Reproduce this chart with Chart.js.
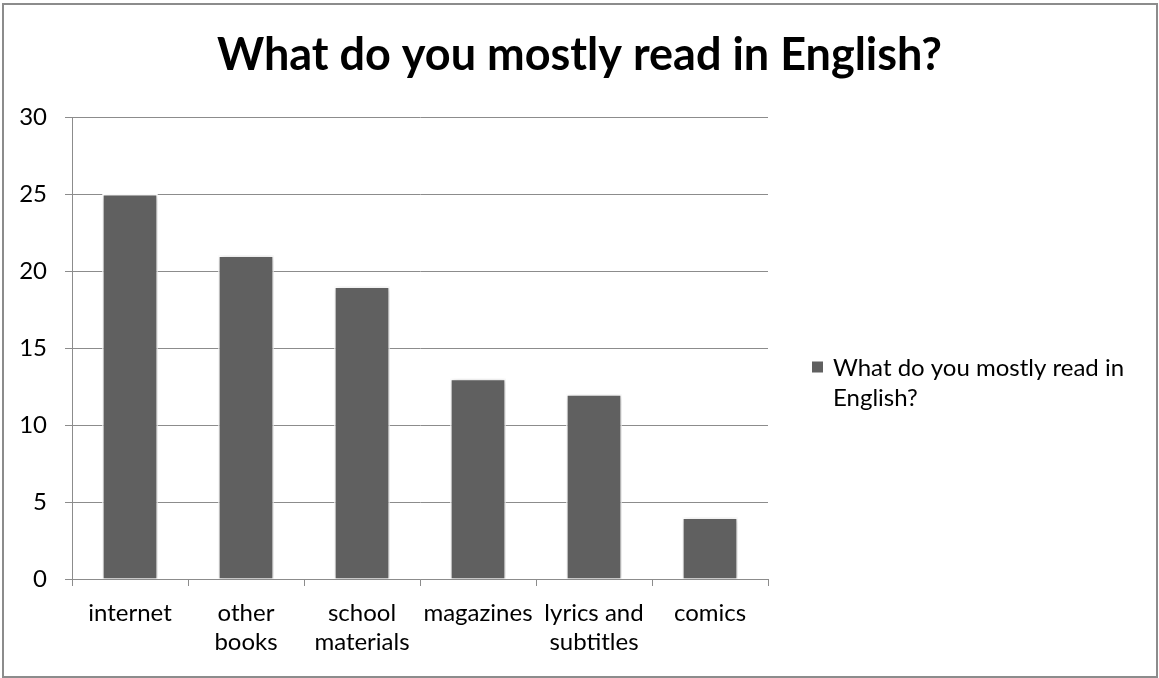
<!DOCTYPE html>
<html>
<head>
<meta charset="utf-8">
<title>What do you mostly read in English?</title>
<script src="https://cdn.jsdelivr.net/npm/chart.js@4/dist/chart.umd.min.js"></script>
<style>
    html, body { margin: 0; padding: 0; background: #fff; }
    #readingChart { display: block; }
</style>
</head>
<body>
<canvas id="readingChart" width="1159" height="678"></canvas>
<script>
const FONT_FAMILY = 'Lato, "Noto Sans", sans-serif';

const chartTitle = 'What do you mostly read in English?';
const categories = [
    ['internet'],
    ['other', 'books'],
    ['school', 'materials'],
    ['magazines'],
    ['lyrics and', 'subtitles'],
    ['comics'],
];
const answers = [25, 21, 19, 13, 12, 4];
const yTicks = { min: 0, max: 30, step: 5 };

const BAR_COLOR = '#606060';
const LINE_COLOR = '#8c8c8c';

// white page + grey frame around the whole chart
const framePlugin = {
    id: 'frame',
    beforeDraw(chart) {
        const ctx = chart.ctx;
        ctx.save();
        ctx.fillStyle = '#fff';
        ctx.fillRect(0, 0, chart.width, chart.height);
        ctx.restore();
    },
    afterDraw(chart) {
        const ctx = chart.ctx;
        ctx.save();
        ctx.strokeStyle = LINE_COLOR;
        ctx.lineWidth = 2;
        ctx.strokeRect(3, 4, chart.width - 5, chart.height - 5);
        ctx.restore();
    },
};

// the title should sit in the middle of the whole canvas, not just the plot part
const wideTitlePlugin = {
    id: 'wideTitle',
    afterLayout(chart) {
        const title = chart.titleBlock;
        if (!title) return;
        title.left = 0;
        title.right = chart.width;
        title.width = chart.width;
    },
};

// soft drop shadow behind the bars
const barShadowPlugin = {
    id: 'barShadow',
    beforeDatasetsDraw(chart) {
        const ctx = chart.ctx;
        ctx.save();
        ctx.shadowColor = 'rgba(0, 0, 0, 0.25)';
        ctx.shadowBlur = 5;
        ctx.shadowOffsetX = 1;
        ctx.shadowOffsetY = 1;
    },
    afterDatasetsDraw(chart) {
        chart.ctx.restore();
    },
};

// legend on the right, wrapped onto several lines like the office style
const sideLegendPlugin = {
    id: 'sideLegend',
    afterDraw(chart, args, opts) {
        const ctx = chart.ctx;
        const dataset = chart.data.datasets[0];
        const x = chart.chartArea.right + opts.offset;
        const textX = x + opts.boxSize + opts.gap;
        const maxWidth = chart.width - textX - 8;
        ctx.save();
        ctx.font = `${opts.fontSize}px ${FONT_FAMILY}`;
        const lines = [];
        let line = '';
        dataset.label.split(' ').forEach((word) => {
            const test = line ? line + ' ' + word : word;
            if (line && ctx.measureText(test).width > maxWidth) {
                lines.push(line);
                line = word;
            } else {
                line = test;
            }
        });
        if (line) lines.push(line);
        const centerY = (chart.chartArea.top + chart.chartArea.bottom) / 2 + opts.shiftY;
        const firstY = centerY - (lines.length - 1) * opts.lineHeight / 2;
        ctx.fillStyle = dataset.backgroundColor;
        ctx.fillRect(x, firstY - opts.boxSize / 2 - 1, opts.boxSize, opts.boxSize);
        ctx.fillStyle = '#000';
        ctx.textBaseline = 'middle';
        ctx.textAlign = 'left';
        lines.forEach((text, i) => {
            ctx.fillText(text, textX, firstY + i * opts.lineHeight);
        });
        ctx.restore();
    },
};

const ctx = document.getElementById('readingChart');

new Chart(ctx, {
    type: 'bar',
    data: {
        labels: categories,
        datasets: [{
            label: chartTitle,
            data: answers,
            backgroundColor: BAR_COLOR,
            borderColor: '#ffffff',
            borderWidth: 1.5,
            barPercentage: 0.48,
            categoryPercentage: 1,
        }],
    },
    options: {
        responsive: false,
        animation: false,
        devicePixelRatio: 1,
        layout: {
            padding: { top: 4, left: 0, right: 391, bottom: 0 },
        },
        plugins: {
            legend: { display: false },
            tooltip: { enabled: false },
            title: {
                display: true,
                text: chartTitle,
                color: '#000',
                font: { family: FONT_FAMILY, size: 45, weight: 'bold', lineHeight: 1.2 },
                padding: { top: 24, bottom: 35 },
            },
            sideLegend: {
                offset: 44,
                boxSize: 11,
                gap: 10,
                fontSize: 24,
                lineHeight: 30,
                shiftY: 35,
            },
        },
        scales: {
            x: {
                grid: {
                    display: true,
                    drawOnChartArea: false,
                    offset: true,
                    color: LINE_COLOR,
                    tickLength: 7,
                },
                border: { color: LINE_COLOR, width: 1 },
                ticks: {
                    color: '#000',
                    font: { family: FONT_FAMILY, size: 24, lineHeight: 1.2 },
                    padding: 13,
                    autoSkip: false,
                    maxRotation: 0,
                    minRotation: 0,
                },
                afterFit(scale) {
                    scale.height = 99;
                },
            },
            y: {
                min: yTicks.min,
                max: yTicks.max,
                grid: {
                    color: LINE_COLOR,
                    tickLength: 7,
                },
                border: { color: LINE_COLOR, width: 1 },
                ticks: {
                    stepSize: yTicks.step,
                    color: '#000',
                    font: { family: FONT_FAMILY, size: 24 },
                    padding: 18,
                },
                afterFit(scale) {
                    scale.width = 72;
                },
            },
        },
    },
    plugins: [framePlugin, wideTitlePlugin, barShadowPlugin, sideLegendPlugin],
});
</script>
</body>
</html>
